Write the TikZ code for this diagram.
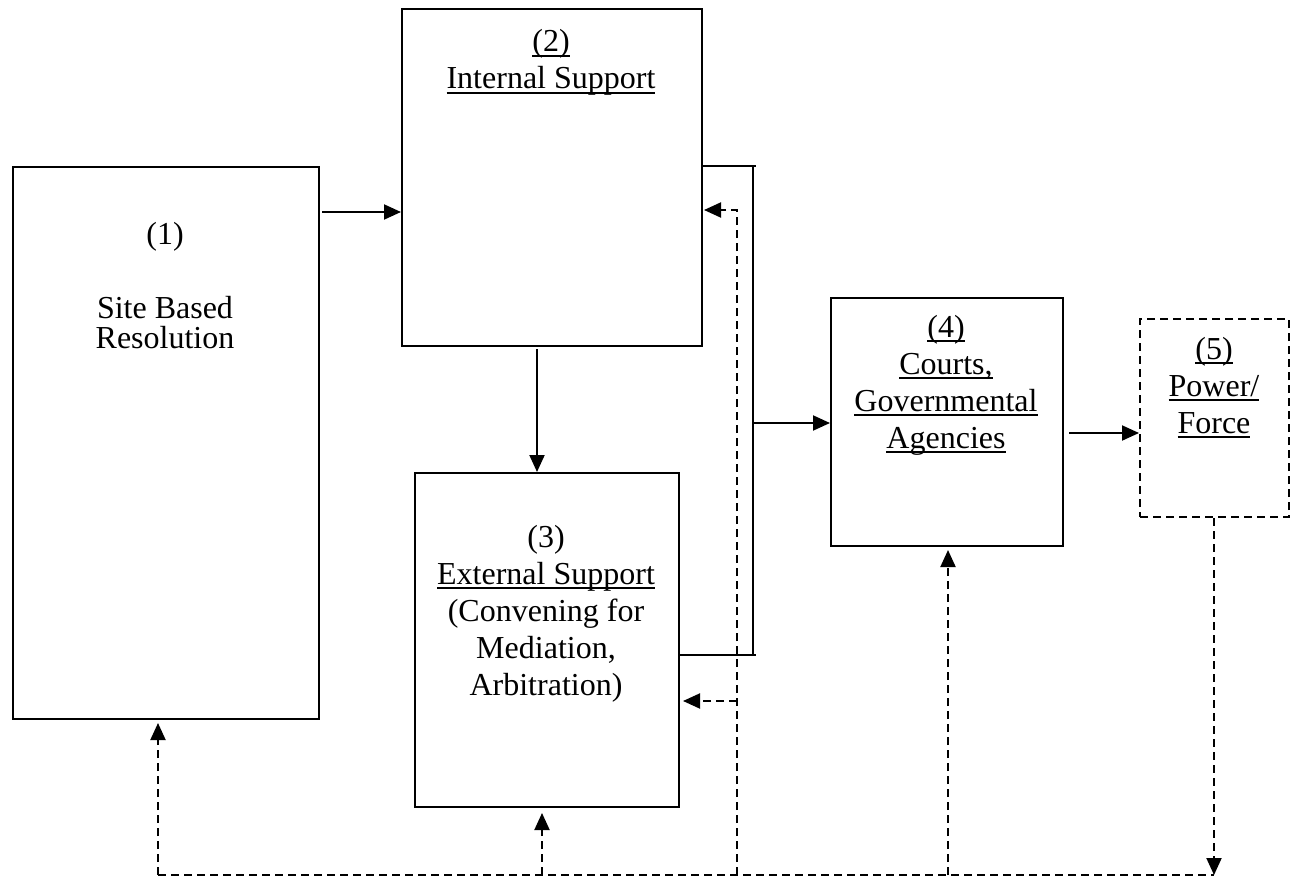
\documentclass[tikz,border=0pt]{standalone}
\usepackage{fontspec}
\setmainfont{Liberation Serif}
\usetikzlibrary{arrows.meta}
\newcommand\ulx[1]{\setbox0=\hbox{#1}\rlap{\rule[-0.16em]{\wd0}{0.06em}}\box0}
\newcommand\lns[1]{\begin{tabular}[t]{@{}c@{}}#1\end{tabular}}
\begin{document}
\begin{tikzpicture}[x=1pt,y=1pt,
  box/.style={draw, line width=2pt, rectangle, inner sep=0pt, anchor=north west},
  dbox/.style={box, dash pattern=on 8pt off 5pt},
  lbl/.style={inner sep=0pt, anchor=base, font=\fontsize{32}{37}\selectfont},
  arr/.style={line width=2pt, -{Triangle[length=17pt,width=15pt]}},
  darr/.style={arr, dash pattern=on 8pt off 5pt},
  ln/.style={line width=2pt},
  dln/.style={ln, dash pattern=on 8pt off 5pt}]
\useasboundingbox (0,0) rectangle (1297,-877);

% boxes
\node[box, minimum width=306pt, minimum height=552pt] (b1) at (12,-166) {};
\node[box, minimum width=300pt, minimum height=337pt] (b2) at (401,-8) {};
\node[box, minimum width=264pt, minimum height=334pt] (b3) at (414,-472) {};
\node[box, minimum width=232pt, minimum height=248pt] (b4) at (830,-297) {};
\node[dbox, minimum width=149pt, minimum height=198pt] (b5) at (1139,-318) {};

% labels
\node[lbl] (t1a) at (165,-244) {(1)};
\node[lbl, font=\fontsize{32}{29}\selectfont] (t1b) at (165,-318) {\lns{Site Based\\Resolution}};
\node[lbl] (t2) at (551,-52) {\lns{\ulx{(2)}\\\ulx{Internal Support}}};
\node[lbl] (t3) at (546,-547) {\lns{(3)\\\ulx{External Support}\\(Convening for\\Mediation,\\Arbitration)}};
\node[lbl] (t4) at (946,-337) {\lns{\ulx{(4)}\\\ulx{Courts,}\\\ulx{Governmental}\\\ulx{Agencies}}};
\node[lbl] (t5) at (1214,-359) {\lns{\ulx{(5)}\\\ulx{Power/}\\\ulx{Force}}};

% helper coordinates
\coordinate (bt) at (753,-166);
\coordinate (btr) at (756,-166);
\coordinate (bb) at (753,-655);
\coordinate (bbr) at (756,-655);
\coordinate (bm) at (753,-423);
\coordinate (d1) at (158,-875);
\coordinate (d3) at (542,-875);
\coordinate (dv) at (737,-875);
\coordinate (dvt) at (737,-210);
\coordinate (dvm) at (737,-701);
\coordinate (d4) at (948,-875);
\coordinate (d5) at (1214,-875);

% solid connectors
\draw[arr, shorten <=2pt] (b1.east |- 0,-212) -- (b2.west |- 0,-212);
\draw[arr, shorten <=2pt] (b2.south -| 537,0) -- (b3.north -| 537,0);
\draw[ln] (b2.east |- bt) -- (btr);
\draw[ln] (bt) -- (bb);
\draw[ln] (b3.east |- bb) -- (bbr);
\draw[arr] (bm) -- (b4.west |- bm);
\draw[arr, shorten <=5pt] (b4.east |- 0,-433) -- (b5.west |- 0,-433);

% dashed feedback connectors
\draw[dln] (d1) -- (d5);
\draw[darr, shorten >=3pt] (d1) -- (b1.south -| d1);
\draw[darr, shorten >=5pt] (d3) -- (b3.south -| d3);
\draw[darr, shorten >=1pt] (dv) -- (dvt) -- (b2.east |- dvt);
\draw[darr, shorten >=3pt] (dvm) -- (b3.east |- dvm);
\draw[darr, shorten >=3pt] (d4) -- (b4.south -| d4);
\draw[darr] (b5.south -| d5) -- (d5);
\end{tikzpicture}
\end{document}
